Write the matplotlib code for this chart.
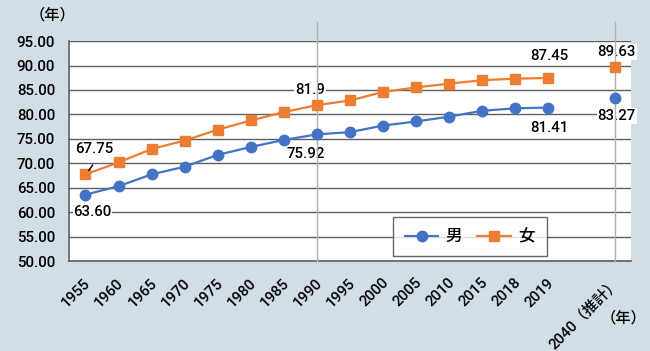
import matplotlib
matplotlib.use("Agg")
import matplotlib.pyplot as plt
import matplotlib.transforms as mtransforms
import numpy as np

plt.rcParams['font.family'] = ['Roboto', 'Noto Sans CJK JP', 'DejaVu Sans']
plt.rcParams['font.weight'] = 'medium'

categories = ['1955', '1960', '1965', '1970', '1975', '1980', '1985', '1990', '1995',
              '2000', '2005', '2010', '2015', '2018', '2019', '', '2040（推計）']
male = [63.60, 65.32, 67.74, 69.31, 71.73, 73.35, 74.78, 75.92, 76.38,
        77.72, 78.56, 79.55, 80.75, 81.25, 81.41]
female = [67.75, 70.19, 72.92, 74.66, 76.89, 78.76, 80.48, 81.90, 82.85,
          84.60, 85.52, 86.30, 86.99, 87.32, 87.45]
male_2040 = 83.27
female_2040 = 89.63
yticks = [50, 55, 60, 65, 70, 75, 80, 85, 90, 95]

blue = '#4472C4'
orange = '#ED7D31'
bg = '#d2dee6'
grid_c = '#5f5f5f'
FS = 10.8

fig = plt.figure(figsize=(6.5, 3.51), dpi=100)
fig.patch.set_facecolor(bg)
ax = fig.add_axes([0.106, 0.256, 0.865, 0.627])
ax.set_facecolor('white')

x_all = np.arange(len(categories))
x_main = x_all[:len(male)]
x_2040 = x_all[-1]

ax.set_xlim(-0.5, len(categories) - 0.5)
ax.set_ylim(50, 95)
ax.set_yticks(yticks)
ax.set_yticklabels([f'{v:.2f}' for v in yticks], fontsize=FS)
for y in yticks:
    ax.axhline(y, color=grid_c, lw=1.0, zorder=1)

ax.plot(x_main, male, color=blue, lw=1.6, marker='o', ms=7.5, zorder=5, label='男')
ax.plot(x_main, female, color=orange, lw=1.6, marker='s', ms=7.5, zorder=5, label='女')
ax.plot([x_2040], [male_2040], color=blue, marker='o', ms=7.5, ls='none', zorder=5)
ax.plot([x_2040], [female_2040], color=orange, marker='s', ms=7.5, ls='none', zorder=5)

# vertical reference lines
for xv in (7, x_2040):
    ax.plot([xv, xv], [50, 98.8], color='#b0b0b0', lw=1.0, clip_on=False, zorder=4)

bb = dict(boxstyle='square,pad=0.05', fc='white', ec='none')
def lab(x, y, s, dx, dy):
    ax.annotate(s, (x, y), xytext=(dx, dy), textcoords='offset points',
                ha='center', va='center', fontsize=FS, bbox=bb, zorder=3)

lab(0, female[0], f'{female[0]:.2f}', 6.5, 18)
ax.annotate('', xy=(0.05, female[0] + 0.3), xytext=(0.27, female[0] + 2.4),
            arrowprops=dict(arrowstyle='-', color='black', lw=1.0), zorder=6)
lab(0, male[0], f'{male[0]:.2f}', 5, -12.5)
lab(7, female[7], '81.9', -5, 11)
lab(7, male[7], f'{male[7]:.2f}', -8, -14)
lab(14, female[-1], f'{female[-1]:.2f}', 1, 16)
lab(14, male[-1], f'{male[-1]:.2f}', 1, -15)
lab(x_2040, female_2040, f'{female_2040:.2f}', 1.5, 11)
lab(x_2040, male_2040, f'{male_2040:.2f}', 1.5, -12.5)

ticks = [i for i, c in enumerate(categories) if c]
ax.set_xticks(ticks)
ax.set_xticklabels([categories[i] for i in ticks], rotation=45, ha='right', va='center',
                   rotation_mode='anchor', fontsize=FS)
ax.tick_params(axis='x', length=0, pad=14)
ax.tick_params(axis='y', length=0, pad=10)
shift = mtransforms.ScaledTranslation(3 / 100, 0, fig.dpi_scale_trans)
for t in ax.get_xticklabels():
    t.set_transform(t.get_transform() + shift)

for s in ('top', 'right'):
    ax.spines[s].set_visible(False)
for s in ('left', 'bottom'):
    ax.spines[s].set_color(grid_c)
    ax.spines[s].set_linewidth(1.2)

leg = ax.legend(loc='upper left', bbox_to_anchor=(0.577, 0.2), ncol=2, fontsize=12,
                frameon=True, fancybox=False, edgecolor='#404040', handlelength=2.0,
                handletextpad=0.45, columnspacing=0.9, borderpad=0.7, borderaxespad=0)
leg.get_frame().set_linewidth(1.0)
leg.set_zorder(7)

fig.text(30 / 650, 1 - 15 / 351, '（年）', fontsize=11, ha='left', va='center')
fig.text(646 / 650, 1 - 318 / 351, '（年）', fontsize=11, ha='right', va='center')

fig.savefig('out.png', dpi=100, facecolor=bg)
